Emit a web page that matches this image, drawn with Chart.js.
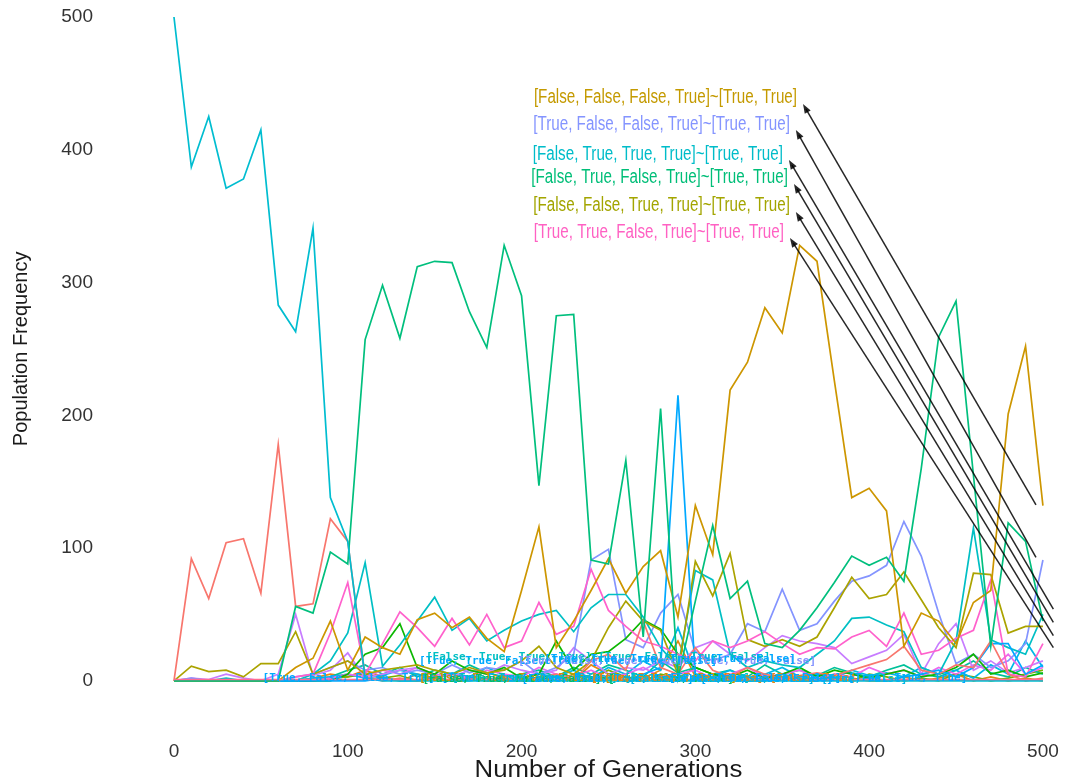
<!DOCTYPE html>
<html>
<head>
<meta charset="utf-8">
<title>Population Frequency</title>
<script src="https://cdn.jsdelivr.net/npm/chart.js@4.4.1/dist/chart.umd.min.js"></script>
<style>
html, body { margin: 0; padding: 0; background: #fff; }
#wrap { width: 1065px; height: 784px; position: relative; }
</style>
</head>
<body>
<div id="wrap"><canvas id="popChart"></canvas></div>
<script>
// generations sampled every 10
const generations = [0, 10, 20, 30, 40, 50, 60, 70, 80, 90,
  100, 110, 120, 130, 140, 150, 160, 170, 180, 190,
  200, 210, 220, 230, 240, 250, 260, 270, 280, 290,
  300, 310, 320, 330, 340, 350, 360, 370, 380, 390,
  400, 410, 420, 430, 440, 450, 460, 470, 480, 490,
  500];

const xTickValues = [0, 100, 200, 300, 400, 500];
const yTickValues = [0, 100, 200, 300, 400, 500];
const xTitle = 'Number of Generations';
const yTitle = 'Population Frequency';

// population counts per genotype
const redSeries = [0, 92, 62, 104, 107, 66, 178, 56, 58, 122,
  105, 3, 0, 2, 0, 1, 0, 2, 0, 3,
  0, 2, 5, 0, 15, 20, 8, 45, 10, 5,
  25, 8, 3, 10, 5, 2, 4, 6, 4, 8,
  12, 16, 26, 8, 5, 12, 10, 30, 5, 0,
  2];
const goldSeries = [0, 0, 0, 0, 0, 0, 0, 10, 17, 45,
  8, 33, 25, 20, 46, 51, 40, 48, 32, 22,
  68, 116, 25, 45, 68, 92, 66, 86, 98, 48,
  132, 95, 219, 240, 281, 262, 328, 316, 226, 138,
  145, 128, 26, 51, 45, 28, 59, 68, 201, 252,
  132];
const oliveSeries = [0, 11, 7, 8, 3, 13, 13, 37, 5, 10,
  15, 5, 8, 10, 12, 8, 5, 10, 6, 8,
  15, 26, 10, 5, 15, 40, 60, 45, 38, 5,
  90, 64, 96, 31, 26, 31, 26, 33, 55, 78,
  62, 65, 82, 61, 40, 25, 81, 80, 36, 41,
  41];
const cyanSeries = [500, 387, 425, 371, 378, 415, 283, 263, 341, 138,
  105, 2, 0, 0, 0, 0, 0, 0, 0, 0,
  0, 0, 0, 0, 0, 0, 0, 0, 0, 0,
  0, 0, 0, 0, 0, 0, 0, 0, 0, 0,
  0, 0, 0, 0, 0, 0, 0, 0, 0, 0,
  0];
const cyan2Series = [0, 0, 0, 2, 0, 0, 0, 0, 5, 15,
  36, 89, 11, 27, 45, 63, 38, 47, 30, 38,
  45, 50, 53, 37, 55, 65, 65, 48, 25, 10,
  83, 76, 20, 10, 15, 12, 10, 20, 30, 47,
  48, 42, 37, 10, 5, 30, 115, 31, 25, 20,
  50];
const greenSeries = [0, 0, 0, 0, 0, 0, 0, 56, 51, 97,
  88, 257, 298, 258, 312, 316, 315, 278, 251, 328,
  290, 147, 275, 276, 91, 88, 166, 33, 205, 2,
  60, 117, 62, 75, 28, 25, 38, 55, 74, 94,
  87, 93, 75, 160, 259, 286, 155, 26, 119, 105,
  45];
const green2Series = [0, 0, 0, 0, 0, 0, 0, 0, 0, 0,
  5, 20, 25, 43, 10, 5, 15, 8, 5, 10,
  2, 5, 30, 8, 20, 22, 32, 46, 39, 20,
  10, 5, 3, 8, 2, 5, 10, 3, 8, 5,
  2, 5, 8, 3, 5, 10, 20, 5, 8, 3,
  6];
const blueSeries = [0, 0, 0, 0, 0, 0, 0, 0, 0, 0,
  0, 0, 2, 0, 0, 3, 0, 0, 2, 0,
  0, 0, 3, 0, 0, 2, 0, 5, 10, 215,
  5, 2, 0, 3, 0, 5, 2, 0, 3, 0,
  2, 0, 3, 5, 8, 3, 10, 28, 28, 5,
  12];
const periSeries = [0, 2, 0, 0, 0, 0, 0, 3, 5, 10,
  15, 8, 10, 5, 8, 5, 12, 6, 10, 8,
  15, 5, 10, 20, 91, 99, 31, 25, 51, 65,
  22, 15, 20, 43, 37, 69, 38, 43, 60, 75,
  79, 87, 120, 94, 51, 13, 20, 10, 15, 28,
  91];
const pinkSeries = [0, 0, 0, 0, 0, 0, 0, 3, 5, 36,
  74, 5, 28, 52, 40, 26, 47, 27, 50, 25,
  30, 59, 35, 41, 84, 53, 41, 30, 26, 20,
  15, 30, 25, 30, 37, 28, 20, 25, 24, 33,
  38, 26, 51, 20, 23, 32, 38, 76, 5, 3,
  28];
const purpleSeries = [0, 2, 1, 5, 2, 0, 5, 50, 4, 8,
  21, 2, 5, 8, 10, 5, 3, 8, 5, 12,
  8, 5, 8, 25, 15, 5, 10, 8, 15, 10,
  25, 30, 20, 15, 25, 34, 30, 28, 25, 13,
  18, 23, 35, 5, 28, 43, 8, 15, 6, 10,
  15];
const orangeSeries = [0, 0, 0, 0, 0, 0, 0, 0, 2, 5,
  3, 8, 3, 0, 5, 2, 0, 3, 0, 0,
  2, 0, 3, 0, 12, 5, 0, 2, 8, 30,
  3, 0, 2, 0, 0, 3, 0, 0, 5, 2,
  0, 0, 3, 0, 2, 5, 0, 3, 0, 2,
  0];
const limeSeries = [0, 0, 0, 0, 0, 0, 0, 0, 0, 2,
  3, 5, 2, 4, 0, 2, 5, 3, 0, 2,
  0, 3, 0, 5, 2, 8, 3, 0, 5, 2,
  10, 5, 3, 0, 2, 5, 0, 3, 2, 0,
  5, 3, 0, 2, 0, 5, 3, 0, 2, 5,
  8];
const tealSeries = [0, 0, 0, 0, 0, 0, 0, 0, 0, 3,
  8, 12, 5, 10, 3, 8, 5, 12, 6, 3,
  5, 8, 3, 10, 5, 12, 8, 3, 15, 6,
  10, 5, 8, 3, 12, 5, 8, 4, 10, 6,
  3, 8, 12, 5, 3, 8, 15, 6, 3, 10,
  5];
const skySeries = [0, 1, 0, 0, 1, 0, 0, 0, 2, 3,
  5, 2, 4, 8, 5, 2, 6, 3, 10, 4,
  2, 5, 3, 8, 2, 10, 5, 15, 8, 40,
  5, 3, 8, 2, 5, 10, 3, 5, 2, 8,
  4, 6, 3, 10, 5, 8, 2, 12, 5, 30,
  10];
const magentaSeries = [0, 0, 0, 0, 0, 0, 0, 0, 0, 2,
  5, 3, 8, 5, 10, 3, 5, 2, 8, 5,
  3, 10, 5, 3, 8, 2, 5, 10, 3, 5,
  8, 2, 5, 10, 3, 5, 8, 2, 5, 3,
  10, 5, 8, 3, 10, 5, 12, 8, 20, 5,
  10];
const roseSeries = [1, 1, 1, 1, 1, 1, 1, 1, 1, 1,
  1, 1, 1, 1, 1, 1, 1, 1, 1, 1,
  1, 1, 1, 1, 1, 1, 1, 1, 1, 1,
  1, 1, 1, 1, 1, 1, 1, 1, 1, 1,
  1, 1, 1, 1, 1, 1, 1, 1, 1, 1,
  1];

// callout labels with arrows (label anchor = right end of text, tail = where the arrow starts)
const calloutTexts = [
  '[False, False, False, True]~[True, True]',
  '[True, False, False, True]~[True, True]',
  '[False, True, True, True]~[True, True]',
  '[False, True, False, True]~[True, True]',
  '[False, False, True, True]~[True, True]',
  '[True, True, False, True]~[True, True]'
];
const calloutLabelGen = [358.5, 354.4, 350.4, 353.3, 354.4, 351];
const calloutLabelValue = [439, 419.4, 396.8, 378.8, 357.7, 338];
const calloutTailGen = [496, 496, 506, 506, 506, 506];
const calloutTailValue = [132.5, 93, 54, 44, 34, 25];
const calloutColors = ['#C49A00', '#8494FF', '#00BCC9', '#00BE78', '#A3A500', '#FF61C3'];

// the crowded little labels that sit on top of each other near zero
const crowdedTexts = [
  '[True, False, False, True]~[True, False, True, False]',
  '[False, False, True, False]~[True, False, False]',
  '[False, True, False, False]~[True, True, False]',
  '[True, True, True, False]~[True, False, True]',
  '[False, True, True, False]~[False, True, False]',
  '[True, False, True, False]~[False, True]',
  '[False, False, False, False]~[True, False]',
  '[True, True, False, False]~[True, True, True]',
  '[True, True, False, True]~[True, True, False]',
  '[False, True, True, True]~[True, False, True, False]',
  '[True, False, True, True]~[True, True, False]',
  '[True, True, True, True]~[True, False]'
];
const crowdedGen = [51, 141, 143, 160, 200, 240, 262, 285, 141, 145, 198, 213];
const crowdedValue = [2, 2, 1, 2, 1, 2, 1, 2, 15, 18, 15, 16];
const crowdedColors = ['#00A9FF', '#CD9600', '#00BE67', '#00BFC4', '#00A9FF', '#E68613',
  '#00B8E7', '#00A9FF', '#00A9FF', '#00BFC4', '#8494FF', '#00A9FF'];

// drawing order: first = bottom
const seriesList = [
  { data: orangeSeries, color: '#E68613' },
  { data: limeSeries, color: '#7CAE00' },
  { data: tealSeries, color: '#00C19A' },
  { data: skySeries, color: '#00B8E7' },
  { data: magentaSeries, color: '#ED68ED' },
  { data: purpleSeries, color: '#C77CFF' },
  { data: periSeries, color: '#8494FF' },
  { data: green2Series, color: '#0CB702' },
  { data: cyan2Series, color: '#00BFC4' },
  { data: oliveSeries, color: '#ABA300' },
  { data: pinkSeries, color: '#FF61CC' },
  { data: blueSeries, color: '#00A9FF' },
  { data: redSeries, color: '#F8766D' },
  { data: goldSeries, color: '#CD9600' },
  { data: greenSeries, color: '#00BF7D' },
  { data: cyanSeries, color: '#00BDD0' },
  { data: roseSeries, color: '#FF6C91' }
];

const FONT = '"Liberation Sans", Arial, sans-serif';

const labelPlugin = {
  id: 'genotypeLabels',
  afterDatasetsDraw(chart) {
    const ctx = chart.ctx;
    const xs = chart.scales.x;
    const ys = chart.scales.y;

    // crowded labels
    ctx.save();
    ctx.font = 'bold 11px "DejaVu Sans Mono"';
    ctx.textAlign = 'left';
    ctx.textBaseline = 'middle';
    for (let i = 0; i < crowdedTexts.length; i++) {
      ctx.fillStyle = crowdedColors[i];
      ctx.fillText(crowdedTexts[i], xs.getPixelForValue(crowdedGen[i]), ys.getPixelForValue(crowdedValue[i]));
    }
    ctx.restore();

    // arrows + callouts
    for (let i = 0; i < calloutTexts.length; i++) {
      const lx = xs.getPixelForValue(calloutLabelGen[i]);
      const ly = ys.getPixelForValue(calloutLabelValue[i]);
      const tipX = lx + 6, tipY = ly + 6;
      const tailX = xs.getPixelForValue(calloutTailGen[i]);
      const tailY = ys.getPixelForValue(calloutTailValue[i]);
      const ang = Math.atan2(tipY - tailY, tipX - tailX);

      ctx.save();
      ctx.strokeStyle = 'rgba(0,0,0,0.85)';
      ctx.fillStyle = 'rgba(0,0,0,0.85)';
      ctx.lineWidth = 1.5;
      ctx.beginPath();
      ctx.moveTo(tailX, tailY);
      ctx.lineTo(tipX - 6 * Math.cos(ang), tipY - 6 * Math.sin(ang));
      ctx.stroke();
      ctx.beginPath();
      ctx.moveTo(tipX, tipY);
      ctx.lineTo(tipX - 10 * Math.cos(ang - 0.35), tipY - 10 * Math.sin(ang - 0.35));
      ctx.lineTo(tipX - 10 * Math.cos(ang + 0.35), tipY - 10 * Math.sin(ang + 0.35));
      ctx.closePath();
      ctx.fill();
      ctx.restore();

      ctx.save();
      ctx.translate(lx, ly);
      ctx.scale(0.76, 1);
      ctx.font = '20px ' + FONT;
      ctx.textAlign = 'right';
      ctx.textBaseline = 'middle';
      ctx.fillStyle = calloutColors[i];
      ctx.fillText(calloutTexts[i], 0, 0);
      ctx.restore();
    }
  },
  afterDraw(chart) {
    // axis titles centred on the middle of the data range (250 / 250)
    const ctx = chart.ctx;
    const xs = chart.scales.x;
    const ys = chart.scales.y;
    ctx.save();
    ctx.fillStyle = '#1a1a1a';
    ctx.textAlign = 'center';
    ctx.textBaseline = 'middle';
    ctx.font = '23px ' + FONT;
    ctx.translate(xs.getPixelForValue(250), 771);
    ctx.scale(1.12, 1);
    ctx.fillText(xTitle, 0, 0);
    ctx.restore();

    ctx.save();
    ctx.fillStyle = '#1a1a1a';
    ctx.textAlign = 'center';
    ctx.textBaseline = 'middle';
    ctx.font = '20px ' + FONT;
    ctx.translate(21, ys.getPixelForValue(250));
    ctx.rotate(-Math.PI / 2);
    ctx.fillText(yTitle, 0, 0);
    ctx.restore();
  }
};

const datasets = seriesList.map((s, idx) => ({
  data: generations.map((g, i) => ({ x: g, y: s.data[i] })),
  borderColor: s.color,
  backgroundColor: s.color,
  borderWidth: 1.7,
  pointRadius: 0,
  tension: 0,
  fill: false,
  order: seriesList.length - idx
}));

const ctx = document.getElementById('popChart').getContext('2d');
const chart = new Chart(ctx, {
  type: 'line',
  data: { datasets: datasets },
  options: {
    responsive: true,
    maintainAspectRatio: false,
    devicePixelRatio: 1,
    animation: false,
    layout: { padding: 0 },
    plugins: {
      legend: { display: false },
      tooltip: { enabled: false }
    },
    scales: {
      x: {
        type: 'linear',
        min: -25.3,
        max: 512.7,
        grid: { display: false, drawTicks: false },
        border: { display: false },
        afterBuildTicks: (scale) => { scale.ticks = xTickValues.map(v => ({ value: v })); },
        afterFit: (scale) => {
          scale.height = 70;
          // no extra room for edge labels, the plot runs to the canvas edge
          scale.paddingLeft = 0;
          scale.paddingRight = 0;
        },
        ticks: {
          padding: 26,
          maxRotation: 0,
          color: '#333333',
          font: { family: FONT, size: 19 }
        },
        title: { display: false }
      },
      y: {
        type: 'linear',
        min: -25,
        max: 512.8,
        grid: { display: false, drawTicks: false },
        border: { display: false },
        afterBuildTicks: (scale) => { scale.ticks = yTickValues.map(v => ({ value: v })); },
        afterFit: (scale) => {
          scale.width = 130;
          scale.paddingTop = 0;
          scale.paddingBottom = 0;
        },
        ticks: {
          padding: 37,
          color: '#333333',
          font: { family: FONT, size: 19 }
        },
        title: { display: false }
      }
    }
  },
  plugins: [labelPlugin]
});
</script>
</body>
</html>
